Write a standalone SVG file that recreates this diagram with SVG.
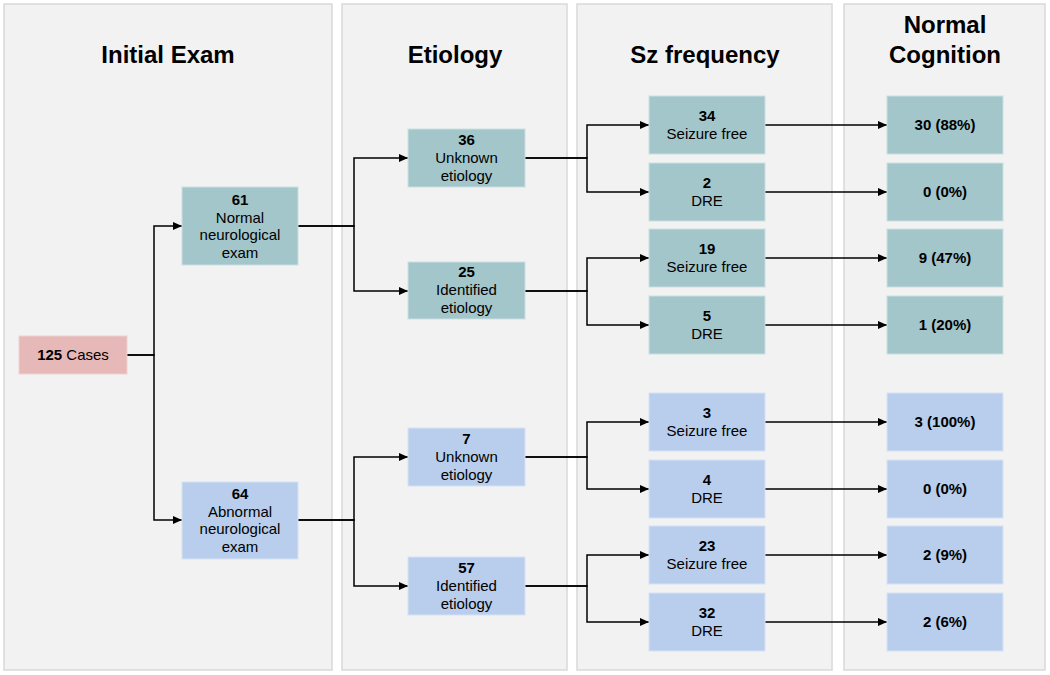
<svg xmlns="http://www.w3.org/2000/svg" width="1050" height="675" viewBox="0 0 1050 675">
<defs>
<style>
.panel{fill:#f2f2f2;stroke:#d9d9d9;stroke-width:1.5}
.teal{fill:#a3c6cb;stroke:#c9dfe2;stroke-width:1}
.blue{fill:#b8ceec;stroke:#d6e2f5;stroke-width:1}
.pink{fill:#e6b8b7;stroke:#f0d2d1;stroke-width:1}
text{font-family:"Liberation Sans",Arial,sans-serif;fill:#000;text-anchor:middle}
.h{font-size:24px;font-weight:bold}
.t{font-size:15px}
.b{font-weight:bold}
.c{fill:none;stroke:#000;stroke-width:1.5}
</style>
<marker id="ah" markerUnits="userSpaceOnUse" markerWidth="10" markerHeight="10" refX="9" refY="5" orient="auto">
<path d="M0,1 L9,5 L0,9 Z" fill="#000"/>
</marker>
</defs>
<rect width="1050" height="675" fill="#ffffff"/>
<g id="panels">
<rect class="panel" x="4" y="4" width="328" height="666"/>
<rect class="panel" x="342" y="4" width="225" height="666"/>
<rect class="panel" x="577" y="4" width="255" height="666"/>
<rect class="panel" x="844" y="4" width="201" height="666"/>
<text class="h" x="168" y="63">Initial Exam</text>
<text class="h" x="455" y="63">Etiology</text>
<text class="h" x="705" y="63">Sz frequency</text>
<text class="h" x="945" y="33">Normal</text>
<text class="h" x="945" y="63">Cognition</text>
</g>
<g id="connectors">
<path class="c" marker-end="url(#ah)" d="M127,355 H154 V226 H182"/>
<path class="c" marker-end="url(#ah)" d="M127,355 H154 V520 H182"/>
<path class="c" marker-end="url(#ah)" d="M298,226 H354 V158 H408"/>
<path class="c" marker-end="url(#ah)" d="M298,226 H354 V291 H408"/>
<path class="c" marker-end="url(#ah)" d="M298,520 H354 V457 H408"/>
<path class="c" marker-end="url(#ah)" d="M298,520 H354 V586 H408"/>
<path class="c" marker-end="url(#ah)" d="M525,158 H587 V125 H649"/>
<path class="c" marker-end="url(#ah)" d="M525,158 H587 V192 H649"/>
<path class="c" marker-end="url(#ah)" d="M525,291 H587 V258 H649"/>
<path class="c" marker-end="url(#ah)" d="M525,291 H587 V325 H649"/>
<path class="c" marker-end="url(#ah)" d="M525,457 H587 V422 H649"/>
<path class="c" marker-end="url(#ah)" d="M525,457 H587 V489 H649"/>
<path class="c" marker-end="url(#ah)" d="M525,586 H587 V555 H649"/>
<path class="c" marker-end="url(#ah)" d="M525,586 H587 V622 H649"/>
<path class="c" marker-end="url(#ah)" d="M765,125 H887"/>
<path class="c" marker-end="url(#ah)" d="M765,192 H887"/>
<path class="c" marker-end="url(#ah)" d="M765,258 H887"/>
<path class="c" marker-end="url(#ah)" d="M765,325 H887"/>
<path class="c" marker-end="url(#ah)" d="M765,422 H887"/>
<path class="c" marker-end="url(#ah)" d="M765,489 H887"/>
<path class="c" marker-end="url(#ah)" d="M765,555 H887"/>
<path class="c" marker-end="url(#ah)" d="M765,622 H887"/>
</g>
<g id="n125">
<rect class="pink" x="19" y="336" width="108" height="38"/>
<text class="t" x="73" y="360"><tspan class="b">125</tspan> Cases</text>
</g>
<g id="n61">
<rect class="teal" x="182" y="187" width="116" height="78"/>
<text class="t" x="240" y="205"><tspan class="b">61</tspan><tspan x="240" dy="17.7">Normal</tspan><tspan x="240" dy="17.7">neurological</tspan><tspan x="240" dy="17.7">exam</tspan></text>
</g>
<g id="n64">
<rect class="blue" x="182" y="482" width="116" height="77"/>
<text class="t" x="240" y="499"><tspan class="b">64</tspan><tspan x="240" dy="17.7">Abnormal</tspan><tspan x="240" dy="17.7">neurological</tspan><tspan x="240" dy="17.7">exam</tspan></text>
</g>
<g id="n36">
<rect class="teal" x="408" y="129" width="117" height="58"/>
<text class="t" x="466.5" y="145"><tspan class="b">36</tspan><tspan x="466.5" dy="18">Unknown</tspan><tspan x="466.5" dy="18">etiology</tspan></text>
</g>
<g id="n25">
<rect class="teal" x="408" y="262" width="117" height="57"/>
<text class="t" x="466.5" y="277"><tspan class="b">25</tspan><tspan x="466.5" dy="18">Identified</tspan><tspan x="466.5" dy="18">etiology</tspan></text>
</g>
<g id="n7">
<rect class="blue" x="408" y="428" width="117" height="58"/>
<text class="t" x="466.5" y="444"><tspan class="b">7</tspan><tspan x="466.5" dy="18">Unknown</tspan><tspan x="466.5" dy="18">etiology</tspan></text>
</g>
<g id="n57">
<rect class="blue" x="408" y="557" width="117" height="58"/>
<text class="t" x="466.5" y="573"><tspan class="b">57</tspan><tspan x="466.5" dy="18">Identified</tspan><tspan x="466.5" dy="18">etiology</tspan></text>
</g>
<g id="n34">
<rect class="teal" x="649" y="96" width="116" height="58"/>
<text class="t" x="707" y="121"><tspan class="b">34</tspan><tspan x="707" dy="17.7">Seizure free</tspan></text>
</g>
<g id="n2">
<rect class="teal" x="649" y="163" width="116" height="58"/>
<text class="t" x="707" y="188"><tspan class="b">2</tspan><tspan x="707" dy="17.7">DRE</tspan></text>
</g>
<g id="n19">
<rect class="teal" x="649" y="229" width="116" height="58"/>
<text class="t" x="707" y="254"><tspan class="b">19</tspan><tspan x="707" dy="17.7">Seizure free</tspan></text>
</g>
<g id="n5">
<rect class="teal" x="649" y="296" width="116" height="58"/>
<text class="t" x="707" y="321"><tspan class="b">5</tspan><tspan x="707" dy="17.7">DRE</tspan></text>
</g>
<g id="n3">
<rect class="blue" x="649" y="393" width="116" height="58"/>
<text class="t" x="707" y="418"><tspan class="b">3</tspan><tspan x="707" dy="17.7">Seizure free</tspan></text>
</g>
<g id="n4">
<rect class="blue" x="649" y="460" width="116" height="58"/>
<text class="t" x="707" y="485"><tspan class="b">4</tspan><tspan x="707" dy="17.7">DRE</tspan></text>
</g>
<g id="n23">
<rect class="blue" x="649" y="526" width="116" height="58"/>
<text class="t" x="707" y="551"><tspan class="b">23</tspan><tspan x="707" dy="17.7">Seizure free</tspan></text>
</g>
<g id="n32">
<rect class="blue" x="649" y="593" width="116" height="58"/>
<text class="t" x="707" y="618"><tspan class="b">32</tspan><tspan x="707" dy="17.7">DRE</tspan></text>
</g>
<g id="c1">
<rect class="teal" x="887" y="96" width="116" height="58"/>
<text class="t b" x="945" y="130">30 (88%)</text>
</g>
<g id="c2">
<rect class="teal" x="887" y="163" width="116" height="58"/>
<text class="t b" x="945" y="197">0 (0%)</text>
</g>
<g id="c3">
<rect class="teal" x="887" y="229" width="116" height="58"/>
<text class="t b" x="945" y="263">9 (47%)</text>
</g>
<g id="c4">
<rect class="teal" x="887" y="296" width="116" height="58"/>
<text class="t b" x="945" y="330">1 (20%)</text>
</g>
<g id="c5">
<rect class="blue" x="887" y="393" width="116" height="58"/>
<text class="t b" x="945" y="427">3 (100%)</text>
</g>
<g id="c6">
<rect class="blue" x="887" y="460" width="116" height="58"/>
<text class="t b" x="945" y="494">0 (0%)</text>
</g>
<g id="c7">
<rect class="blue" x="887" y="526" width="116" height="58"/>
<text class="t b" x="945" y="560">2 (9%)</text>
</g>
<g id="c8">
<rect class="blue" x="887" y="593" width="116" height="58"/>
<text class="t b" x="945" y="627">2 (6%)</text>
</g>
</svg>
